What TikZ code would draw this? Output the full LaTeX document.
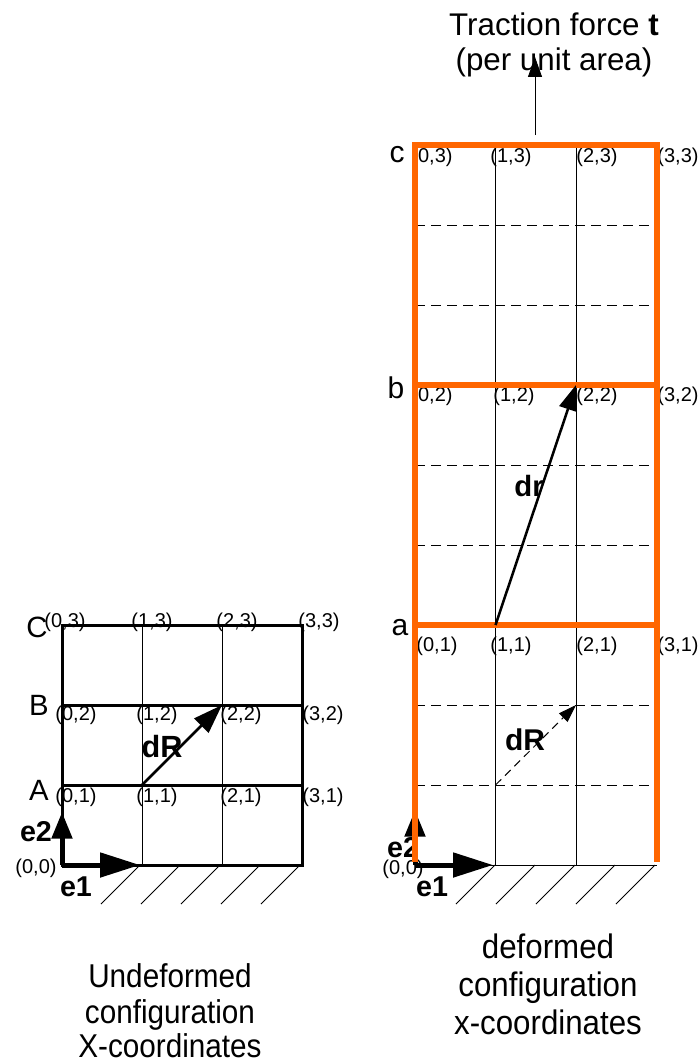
\documentclass[tikz,border=0pt]{standalone}
\usepackage{fontspec}
\setmainfont{Liberation Sans}
\newfontfamily\condU[FakeStretch=0.9]{Liberation Sans}
\newfontfamily\condD[FakeStretch=0.92]{Liberation Sans}
\usetikzlibrary{arrows.meta}
\definecolor{orng}{RGB}{255,102,0}
\newcommand{\fsz}[1]{\fontsize{#1}{#1}\selectfont}
\begin{document}
\begin{tikzpicture}[x=0.75pt,y=-0.75pt,
  coordlbl/.style={inner sep=0pt, font=\fsz{15pt}},
  upperlbl/.style={inner sep=0pt, anchor=base, font=\fsz{22pt}},
  lowerlbl/.style={inner sep=0pt, anchor=base, font=\fsz{22.5pt}},
  boldlbl/.style={inner sep=0pt, anchor=base, font=\fsz{22.5pt}\bfseries},
  elbl/.style={inner sep=0pt, anchor=base, font=\fsz{21.5pt}\bfseries},
  titlelbl/.style={inner sep=0pt, anchor=base, font=\fsz{23.5pt}},
  undeflbl/.style={inner sep=0pt, anchor=base, font=\condU\fsz{24.75pt}},
  deflbl/.style={inner sep=0pt, anchor=base, font=\condD\fsz{25.5pt}},
  thickblk/.style={line width=2.25pt, black},
  thinblk/.style={line width=0.75pt, black},
  orngline/.style={line width=4.5pt, orng},
  dashline/.style={line width=0.75pt, black, dash pattern=on 7.5pt off 4.5pt},
  hatch/.style={line width=0.75pt, black},
  basearrow/.style={line width=3.75pt, black},
]
\useasboundingbox (0,0) rectangle (699,1063);

% ---------- coordinates ----------
\foreach \i in {0,1,2,3}{
  \foreach \j in {0,1,2,3}{
    \coordinate (L\i\j) at ({62+80*\i},{865-80*\j});
    \coordinate (R\i\j) at ({415+80.5*\i},{865-240*\j});
  }
}
\coordinate (Le1) at (140,865);
\coordinate (Le2) at (62,812);
\coordinate (Re1) at (493,865);
\coordinate (Re2) at (415,810);
\coordinate (tb) at (535,135);
\coordinate (tt) at (535,57);
\coordinate (dRs) at (495.5,785);
\coordinate (dRe) at (576,705);

% ---------- left (undeformed) grid ----------
\draw[thinblk] (L10) -- (L13);
\draw[thinblk] (L20) -- (L23);
\draw[thickblk, line join=miter] (L00) -- (L03) -- (L33) -- (L30) -- cycle;
\draw[thickblk] (L02) -- (L32);
\draw[thickblk] (L01) -- (L31);
\foreach \x in {140,180,220,260,300}{
  \draw[hatch] (\x,865) -- (\x-39,904);
}

% labels left
\node[coordlbl] (l03) at (65,622) {(0,3)};
\node[coordlbl] (l13) at (152,622) {(1,3)};
\node[coordlbl] (l23) at (237,622) {(2,3)};
\node[coordlbl] (l33) at (319,622) {(3,3)};
\node[coordlbl] (l02) at (76,715) {(0,2)};
\node[coordlbl] (l12) at (157,715) {(1,2)};
\node[coordlbl] (l22) at (241,715) {(2,2)};
\node[coordlbl] (l32) at (323,715) {(3,2)};
\node[coordlbl] (l01) at (76,797) {(0,1)};
\node[coordlbl] (l11) at (157,797) {(1,1)};
\node[coordlbl] (l21) at (241,797) {(2,1)};
\node[coordlbl] (l31) at (323,797) {(3,1)};
\node[coordlbl] (l00) at (36,868) {(0,0)};
\node[upperlbl] (lC) at (37,637) {C};
\node[upperlbl] (lB) at (39,715) {B};
\node[upperlbl] (lA) at (39,800) {A};
\node[boldlbl, font=\fsz{23pt}\bfseries] (ldR) at (162,757) {dR};
\node[elbl] (le2) at (36,841) {e2};
\node[elbl] (le1) at (76,896) {e1};

\draw[line width=1.9pt, -{Triangle[length=22pt,width=15pt]}] (L11) -- (L22);
\draw[basearrow, -{Triangle[length=20pt,width=15pt]}] (L00) -- (Le2);
\draw[basearrow, -{Triangle[length=30pt,width=18pt]}] (L00) -- (Le1);

% ---------- right (deformed) grid ----------
\draw[thinblk] (R10) -- (R13);
\draw[thinblk] (R20) -- (R23);
\draw[thinblk] (R00) -- (R30);
\foreach \y in {225,305,465,545,705,785}{
  \draw[dashline] (415,\y) -- (656.5,\y);
}
\foreach \x in {495,535,575,615,655}{
  \draw[hatch] (\x,865) -- (\x-39,904);
}

\node[coordlbl] (r03) at (432,157) {(0,3)};
\node[coordlbl] (r13) at (511,157) {(1,3)};
\node[coordlbl] (r23) at (597,157) {(2,3)};
\node[coordlbl] (r33) at (678,157) {(3,3)};
\node[coordlbl] (r02) at (432,396) {(0,2)};
\node[coordlbl] (r12) at (514,396) {(1,2)};
\node[coordlbl] (r22) at (597,396) {(2,2)};
\node[coordlbl] (r32) at (678,396) {(3,2)};
\node[coordlbl] (r01) at (437,646) {(0,1)};
\node[coordlbl] (r11) at (511,646) {(1,1)};
\node[coordlbl] (r21) at (597,646) {(2,1)};
\node[coordlbl] (r31) at (678,646) {(3,1)};
\node[coordlbl] (r00) at (403,869) {(0,0)};
\node[lowerlbl] (rc) at (397,162) {c};
\node[lowerlbl] (rb) at (396,398) {b};
\node[lowerlbl] (ra) at (400,635) {a};
\node[boldlbl, font=\fsz{22pt}\bfseries] (rdr) at (529,496) {dr};
\node[boldlbl] (rdR) at (525,750) {dR};
\node[elbl] (re2) at (403,857) {e2};
\node[elbl] (re1) at (432,896) {e1};

\draw[basearrow, -{Triangle[length=20pt,width=15pt]}] (R00) -- (Re2);
\draw[orngline, line join=miter] (415,862) -- (R03) -- (R33) -- (656.5,862);
\draw[orngline] (R02) -- (R32);
\draw[orngline] (R01) -- (R31);
\draw[basearrow, -{Triangle[length=30pt,width=18pt]}] (R00) -- (Re1);
\draw[line width=1.9pt, -{Triangle[length=19pt,width=13.5pt]}] (R11) -- (R22);
\draw[dashline, dash pattern=on 6pt off 4pt, -{Triangle[length=13.5pt,width=9pt]}] (dRs) -- (dRe);

% traction
\draw[thinblk, -{Triangle[length=15pt,width=10.5pt]}] (tb) -- (tt);
\node[titlelbl] (t1) at (554,36) {Traction force \textbf{t}};
\node[titlelbl] (t2) at (554,70) {(per unit area)};

% captions
\node[undeflbl] (u1) at (170,987) {Undeformed};
\node[undeflbl] (u2) at (170,1023) {configuration};
\node[undeflbl] (u3) at (170,1057) {X-coordinates};
\node[deflbl] (d1) at (548,958) {deformed};
\node[deflbl] (d2) at (548,996) {configuration};
\node[deflbl] (d3) at (548,1034) {x-coordinates};
\end{tikzpicture}
\end{document}
